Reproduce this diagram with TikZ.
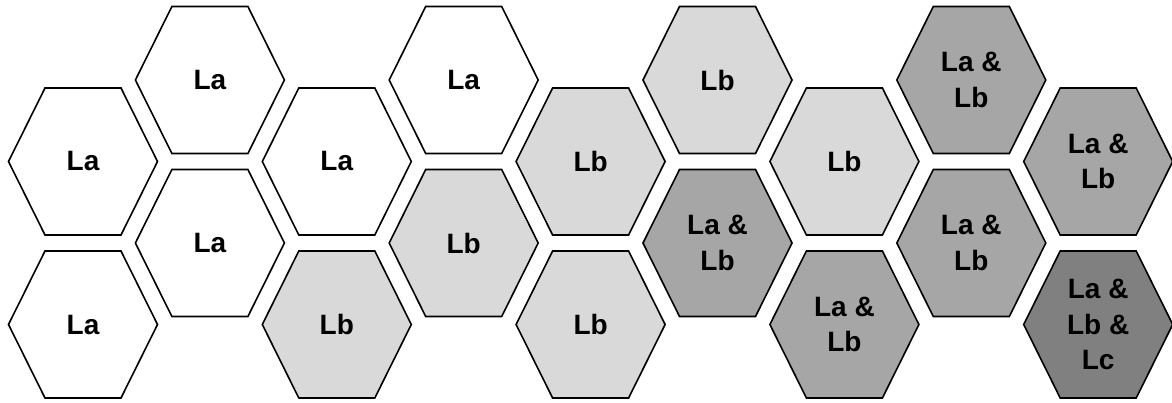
\documentclass[tikz,border=0pt]{standalone}
\usepackage{fontspec}
\setmainfont{Liberation Sans}
\usepackage{tikz}

\definecolor{cellLb}{HTML}{D9D9D9}
\definecolor{cellLab}{HTML}{A6A6A6}
\definecolor{cellLabc}{HTML}{808080}

\begin{document}
\begin{tikzpicture}[x=1pt, y=-1pt,
    hexcell/.style={draw=black, line width=1.6pt, line join=miter},
    hexlabel/.style={font=\bfseries\fontsize{28}{35.5}\selectfont, align=center, inner sep=0pt}]
    \useasboundingbox (0,0) rectangle (1172,402);

    % Honeycomb cells: name / column / row / fill / label
    \foreach \cell/\col/\row/\shade/\txt in {
        c0r0/0/0/white/La, c0r1/0/1/white/La,
        c1r0/1/0/white/La, c1r1/1/1/white/La,
        c2r0/2/0/white/La, c2r1/2/1/cellLb/Lb,
        c3r0/3/0/white/La, c3r1/3/1/cellLb/Lb,
        c4r0/4/0/cellLb/Lb, c4r1/4/1/cellLb/Lb,
        c5r0/5/0/cellLb/Lb, c5r1/5/1/cellLab/{La \&\\Lb},
        c6r0/6/0/cellLb/Lb, c6r1/6/1/cellLab/{La \&\\Lb},
        c7r0/7/0/cellLab/{La \&\\Lb}, c7r1/7/1/cellLab/{La \&\\Lb},
        c8r0/8/0/cellLab/{La \&\\Lb}, c8r1/8/1/cellLabc/{La \&\\Lb \&\\Lc}}
    {
        \pgfmathsetmacro\cx{83+126.9*\col}
        \pgfmathsetmacro\cy{80+81.5*(2*\row+1-mod(\col,2))}
        \filldraw[hexcell, fill=\shade] (\cx-74.5,\cy) -- ++(36.5,-73.5) -- ++(76,0)
            -- ++(36.5,73.5) -- ++(-36.5,73.5) -- ++(-76,0) -- cycle;
        \node[hexlabel] (\cell) at (\cx,\cy) {\txt};
    }

\end{tikzpicture}
\end{document}
